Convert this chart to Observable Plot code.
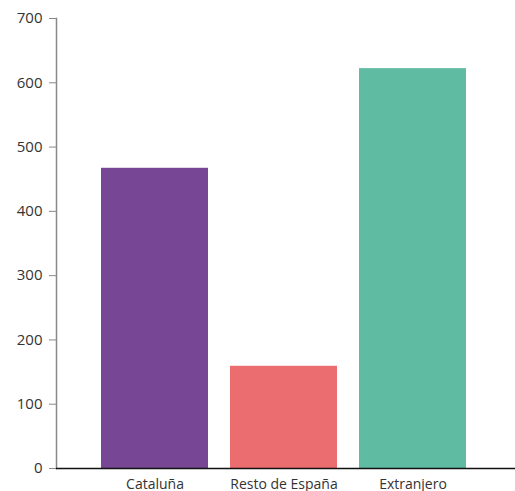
<!DOCTYPE html>
<html>
<head>
<meta charset="utf-8">
<script src="https://cdn.jsdelivr.net/npm/d3@7"></script>
<script src="https://cdn.jsdelivr.net/npm/@observablehq/plot@0.6"></script>
<style>
  html, body { margin: 0; padding: 0; background: #fff; }
  #chart svg { display: block; }
</style>
</head>
<body>
<div id="chart"></div>
<script>
const categories = ["Cataluña", "Resto de España", "Extranjero"];
const values = [467, 159, 622];
const colors = ["#774695", "#ec6d6f", "#5fbba2"];
const yTicks = [0, 100, 200, 300, 400, 500, 600, 700];

const data = categories.map((c, i) => ({category: c, value: values[i]}));

const chart = Plot.plot({
  width: 515,
  height: 491,
  marginTop: 18,
  marginBottom: 23,
  marginLeft: 56,
  marginRight: 0,
  style: {fontFamily: "'Open Sans', sans-serif", fontSize: "14px", color: "#333", background: "#fff"},
  x: {domain: categories, paddingInner: 0.174, paddingOuter: 0.34, insetRight: 5, label: null},
  y: {domain: [0, 700], label: null},
  color: {domain: categories, range: colors},
  marks: [
    Plot.barY(data, {x: "category", y: "value", fill: "category"}),
    Plot.axisY({ticks: yTicks, tickSize: 7, tickPadding: 7, stroke: "#888", fontSize: 15, fill: "#333"}),
    Plot.frame({anchor: "left", stroke: "#888", strokeWidth: 1.5}),
    Plot.axisX({tickSize: 0, tickPadding: 11, fontSize: 14, fill: "#333"}),
    Plot.ruleY([0], {stroke: "#111", strokeWidth: 1.5})
  ]
});
document.getElementById("chart").appendChild(chart);
</script>
</body>
</html>
